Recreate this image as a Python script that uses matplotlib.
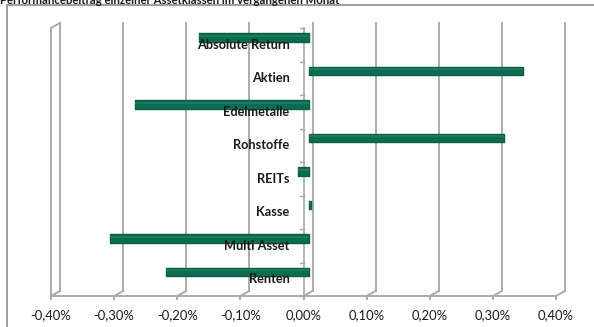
import matplotlib.pyplot as plt
from matplotlib.lines import Line2D

plt.rcParams['font.family'] = ['Lato', 'DejaVu Sans']

title = "Performancebeitrag einzelner Assetklassen im vergangenen Monat"
categories = ["Absolute Return", "Aktien", "Edelmetalle", "Rohstoffe",
              "REITs", "Kasse", "Multi Asset", "Renten"]
# Beitrag in Prozentpunkten
values = [-0.174, 0.339, -0.276, 0.309, -0.018, 0.003, -0.315, -0.227]
xticks = [-0.4, -0.3, -0.2, -0.1, 0.0, 0.1, 0.2, 0.3, 0.4]
xticklabels = ["-0,40%", "-0,30%", "-0,20%", "-0,10%", "0,00%",
               "0,10%", "0,20%", "0,30%", "0,40%"]

W, H = 594, 327
fig = plt.figure(figsize=(W / 100, H / 100), dpi=100)

# front plane of the pseudo-3D plot area (pixels from top-left)
x0, x1, y0, y1 = 51, 556, 28, 296
ax = fig.add_axes([x0 / W, 1 - y1 / H, (x1 - x0) / W, (y1 - y0) / H])
ax.set_xlim(-0.4, 0.4)
ax.set_ylim(len(categories), 0)
ax.axis('off')

px_x = 0.8 / (x1 - x0)
px_y = len(categories) / (y1 - y0)
DX, DY = 9 * px_x, 5 * px_y  # depth offset of the back wall
n = len(categories)
grid = dict(color='#ababab', lw=1.4, clip_on=False, zorder=1)

# back wall gridlines and floor
for v in xticks:
    ax.plot([v + DX, v + DX], [-DY, n - DY], **grid)
    ax.plot([v, v + DX], [n, n - DY], **grid)
    ax.plot([v, v], [n, n + 3 * px_y], **grid)
ax.plot([-0.4, 0.4], [n, n], **grid)
# left side wall
ax.plot([-0.4, -0.4], [0, n], **grid)
ax.plot([-0.4, -0.4 + DX], [0, -DY], **grid)

# category axis at zero
ax.plot([0, 0], [0, n], color='#a8a8a8', lw=1.2, clip_on=False, zorder=2)
for i in range(n + 1):
    ax.plot([-4 * px_x, 0], [i, i], color='#a8a8a8', lw=1.0,
            clip_on=False, zorder=2)

# cylinders sit halfway into the depth
ys = [i + 0.28 for i in range(n)]
ax.barh(ys, values, left=5.5 * px_x, height=0.25, color='#0c6b50',
        edgecolor='#0a5e45', linewidth=1.0, joinstyle='round', zorder=3)
ax.barh([y - 0.05 for y in ys], values, left=5.5 * px_x, height=0.06,
        color='#1a7a5e', linewidth=0, zorder=4)

for i, name in enumerate(categories):
    ax.annotate(name, (0, i + 0.5), xytext=(-14, 0),
                textcoords='offset pixels', ha='right', va='center',
                fontsize=9.2, fontweight='bold', color='#1a1a1a', zorder=5)

for v, lab in zip(xticks, xticklabels):
    ax.annotate(lab, (v, n), xytext=(0, -19), textcoords='offset pixels',
                ha='center', va='center', fontsize=9.4, color='#1a1a1a',
                annotation_clip=False)

# chart frame and clipped title
fig.add_artist(Line2D([7 / W, 7 / W], [0, 1 - 5 / H], color='#8c8c8c', lw=1.2))
fig.add_artist(Line2D([7 / W, 1], [1 - 5 / H, 1 - 5 / H], color='#8c8c8c', lw=1.2))
fig.text(0, 1 - 4 / H, title, ha='left', va='baseline', fontsize=8.2,
         fontweight='bold', color='#1a1a1a')

fig.savefig('out.png', dpi=100)
